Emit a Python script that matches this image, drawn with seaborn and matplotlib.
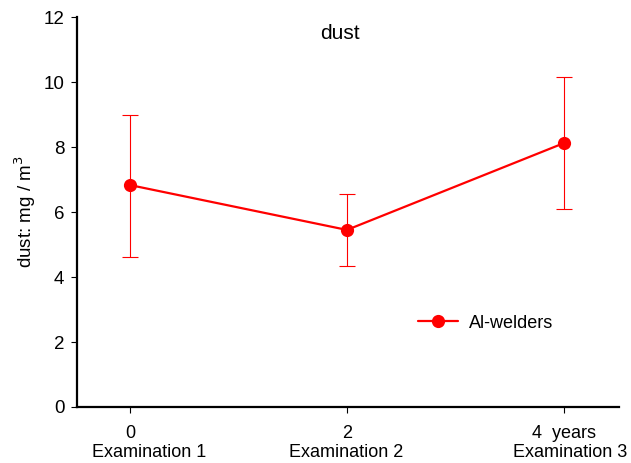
import numpy as np
import pandas as pd
import seaborn as sns
import matplotlib.pyplot as plt
import matplotlib.transforms as mtransforms

# dados
anos = [0, 2, 4]
media = [6.83, 5.45, 8.12]
erro_sup = [8.98, 6.56, 10.15]
erro_inf = [4.63, 4.35, 6.09]
rotulos_x = ['0', '2', '4  years']
exames = ['Examination 1', 'Examination 2', 'Examination 3']
pos_exames = [0.175, 1.995, 4.055]
grupo = 'Al-welders'

df = pd.DataFrame({'ano': anos, 'dust': media, 'grupo': grupo})

sns.set_style('ticks', {'text.color': 'black', 'axes.edgecolor': 'black',
                        'xtick.color': 'black', 'ytick.color': 'black',
                        'axes.labelcolor': 'black'})
plt.rcParams['font.family'] = ['Liberation Sans', 'DejaVu Sans']

fig = plt.figure(figsize=(6.31, 4.63), dpi=100)
ax = fig.add_axes([0.122, 0.121, 0.859, 0.842])

yerr = [np.array(media) - np.array(erro_inf), np.array(erro_sup) - np.array(media)]
ax.errorbar(anos, media, yerr=yerr, fmt='none', ecolor='red', elinewidth=0.8,
            capsize=6, capthick=0.8, zorder=2)
sns.lineplot(data=df, x='ano', y='dust', hue='grupo', palette=['red'], marker='o',
             markersize=9.5, markeredgewidth=0, linewidth=1.6, ax=ax, zorder=3)

ax.set_xlim(-0.49, 4.51)
ax.set_ylim(0, 12)
ax.set_xticks(anos)
ax.set_xticklabels(rotulos_x, fontsize=13)
ax.set_yticks(range(0, 13, 2))
ax.tick_params(axis='y', labelsize=13.5, length=4, width=0.8, pad=5)
ax.tick_params(axis='x', length=4, width=0.8, pad=9)
sns.despine(ax=ax)
for s in ['left', 'bottom']:
    ax.spines[s].set_linewidth(1.6)

# segunda linha dos rotulos do eixo x
trans = mtransforms.blended_transform_factory(ax.transData, ax.transAxes)
for xp, txt in zip(pos_exames, exames):
    ax.text(xp, -0.118, txt, transform=trans, ha='center', va='center',
            fontsize=13, clip_on=False)

ax.set_xlabel('')
ax.set_ylabel('dust: mg / m$^3$', fontsize=13.5, labelpad=4)
ax.text(1.94, 11.5, 'dust', ha='center', va='center', fontsize=15)

ax.legend(loc='center left', bbox_to_anchor=(0.6, 0.215), frameon=False,
          fontsize=13, handlelength=2.2, handletextpad=0.6)

fig.savefig('out.png', dpi=100)
